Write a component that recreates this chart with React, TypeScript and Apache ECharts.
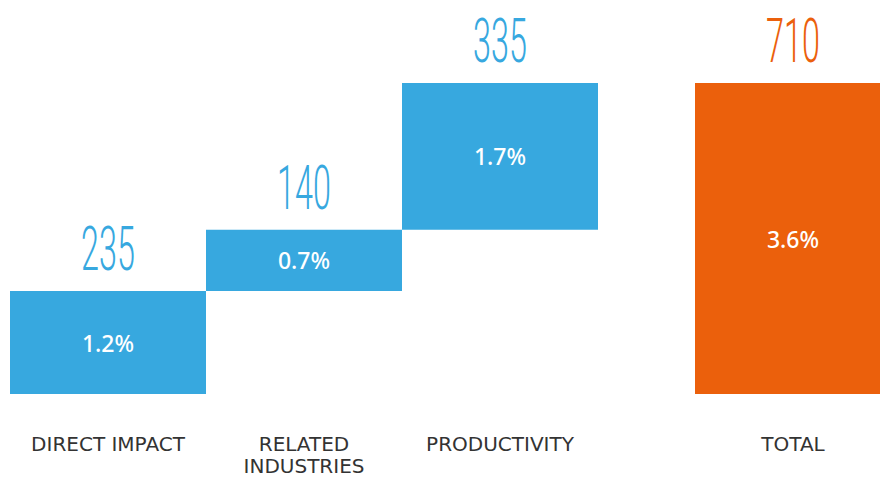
import React, { useEffect, useRef } from "react";
import * as echarts from "echarts";

const categories = ["DIRECT IMPACT", "RELATED\nINDUSTRIES", "PRODUCTIVITY"];
const increments = [235, 140, 335];
const shares = ["1.2%", "0.7%", "1.7%"];
const totalCategory = ["TOTAL"];
const totalValue = [710];
const totalShare = ["3.6%"];

const BLUE = "#37a8df";
const ORANGE = "#eb600c";

export default function App() {
  const ref = useRef<HTMLDivElement>(null);
  useEffect(() => {
    const chart = echarts.init(ref.current!, null, { renderer: "svg" });
    const bases: number[] = [];
    const tops: number[] = [];
    let acc = 0;
    increments.forEach((v) => {
      bases.push(acc);
      acc += v;
      tops.push(acc);
    });
    const yMax = totalValue[0];

    const numberSeries = (axisIndex: number, color: string, data: any[]) => ({
      type: "custom",
      xAxisIndex: axisIndex,
      yAxisIndex: axisIndex,
      silent: true,
      z: 10,
      renderItem: (params: any, api: any) => {
        const p = api.coord([api.value(0), api.value(1)]);
        return {
          type: "text",
          x: p[0],
          y: p[1] - 11,
          scaleX: 0.53,
          style: {
            text: String(api.value(2)),
            fill: color,
            fontSize: 61,
            fontFamily: "Roboto",
            fontWeight: 300,
            align: "center",
            verticalAlign: "bottom",
          },
        };
      },
      data,
    });

    const catAxis = (gridIndex: number, data: string[]) => ({
      type: "category",
      gridIndex,
      data,
      axisLine: { show: false },
      axisTick: { show: false },
      axisLabel: {
        interval: 0,
        color: "#333333",
        fontSize: 20,
        fontFamily: "DejaVu Sans",
        fontWeight: "normal",
        lineHeight: 22,
        margin: 39,
      },
    });
    const valAxis = (gridIndex: number) => ({
      type: "value",
      gridIndex,
      min: 0,
      max: yMax,
      show: false,
    });
    const pctLabel = {
      show: true,
      position: "inside",
      color: "#ffffff",
      fontSize: 23,
      fontFamily: "Noto Sans",
      fontWeight: 500,
    };

    chart.setOption({
      animation: false,
      grid: [
        { left: 10, top: 83, width: 588, height: 311, containLabel: false, outerBoundsMode: "none" },
        { left: 695, top: 83, width: 196, height: 311, containLabel: false, outerBoundsMode: "none" },
      ],
      xAxis: [catAxis(0, categories), catAxis(1, totalCategory)],
      yAxis: [valAxis(0), valAxis(1)],
      series: [
        {
          type: "bar",
          xAxisIndex: 0,
          yAxisIndex: 0,
          stack: "w",
          barCategoryGap: 0,
          silent: true,
          itemStyle: { color: "transparent" },
          data: bases,
        },
        {
          type: "bar",
          xAxisIndex: 0,
          yAxisIndex: 0,
          stack: "w",
          barCategoryGap: 0,
          silent: true,
          itemStyle: { color: BLUE },
          label: { ...pctLabel, formatter: (p: any) => shares[p.dataIndex] },
          data: increments,
        },
        {
          type: "bar",
          xAxisIndex: 1,
          yAxisIndex: 1,
          barCategoryGap: 0,
          silent: true,
          itemStyle: { color: ORANGE },
          label: { ...pctLabel, formatter: (p: any) => totalShare[p.dataIndex] },
          data: totalValue,
        },
        numberSeries(
          0,
          BLUE,
          increments.map((v, i) => [i, tops[i], v])
        ),
        numberSeries(
          1,
          ORANGE,
          totalValue.map((v, i) => [i, v, v])
        ),
      ],
    });
    return () => chart.dispose();
  }, []);
  return (
    <div
      ref={ref}
      style={{ position: "fixed", left: 0, top: 0, width: 880, height: 477, background: "#ffffff" }}
    />
  );
}
